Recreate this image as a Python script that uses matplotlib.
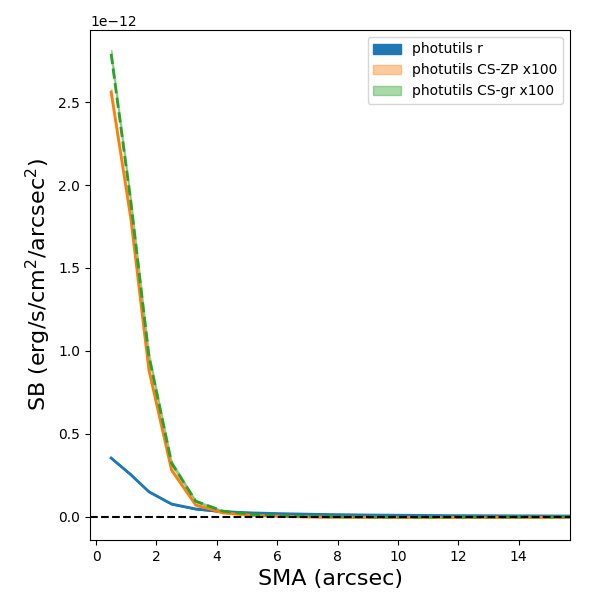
import numpy as np
import matplotlib
matplotlib.use("Agg")
import matplotlib.pyplot as plt

sma = [0.5, 1.15, 1.75, 2.5, 3.3, 4.2, 5.2, 6.3, 7.5, 8.8, 10.2, 11.7, 13.3, 15.0, 16.8]
sb_r = [0.355, 0.255, 0.152, 0.078, 0.048, 0.032, 0.024, 0.019, 0.015, 0.012, 0.010, 0.008, 0.007, 0.006, 0.005]
sb_zp = [2.56, 1.80, 0.886, 0.283, 0.072, 0.025, 0.010, 0.003, -0.001, -0.002, -0.003, -0.003, -0.002, -0.002, -0.001]
sb_gr = [2.79, 1.90, 0.97, 0.325, 0.095, 0.035, 0.015, 0.006, 0.002, 0.000, -0.001, -0.001, -0.001, 0.000, 0.000]
err_r = [0.003, 0.003, 0.002, 0.002, 0.002, 0.002, 0.002, 0.002, 0.002, 0.002, 0.002, 0.002, 0.002, 0.002, 0.002]
err_zp = [0.02, 0.02, 0.015, 0.01, 0.005, 0.004, 0.003, 0.003, 0.003, 0.003, 0.003, 0.003, 0.003, 0.003, 0.003]
err_gr = [0.025, 0.025, 0.02, 0.012, 0.006, 0.004, 0.003, 0.003, 0.003, 0.003, 0.003, 0.003, 0.003, 0.003, 0.003]

scale = 1e-12
x = np.array(sma)
r = np.array(sb_r) * scale
zp = np.array(sb_zp) * scale
gr = np.array(sb_gr) * scale
er = np.array(err_r) * scale
ez = np.array(err_zp) * scale
eg = np.array(err_gr) * scale

fig, ax = plt.subplots(figsize=(6, 6), dpi=100)
fig.subplots_adjust(left=0.15, right=0.95, bottom=0.1, top=0.95)

ax.fill_between(x, r - er, r + er, color='C0', label='photutils r')
ax.plot(x, r, color='C0', lw=2)
ax.fill_between(x, zp - ez, zp + ez, color='C1', alpha=0.4, label='photutils CS-ZP x100')
ax.plot(x, zp, color='C1', lw=2)
ax.fill_between(x, gr - eg, gr + eg, color='C2', alpha=0.4, label='photutils CS-gr x100')
ax.plot(x, gr, color='C2', lw=2, ls='--')
ax.axhline(0, color='k', ls='--')

ax.set_xlim(-0.2, 15.7)
ax.set_ylim(-0.139e-12, 2.934e-12)
ax.set_xlabel('SMA (arcsec)', fontsize=16)
ax.set_ylabel('SB (erg/s/cm$^2$/arcsec$^2$)', fontsize=16)
ax.legend(loc='upper right')

fig.savefig('out.png')
